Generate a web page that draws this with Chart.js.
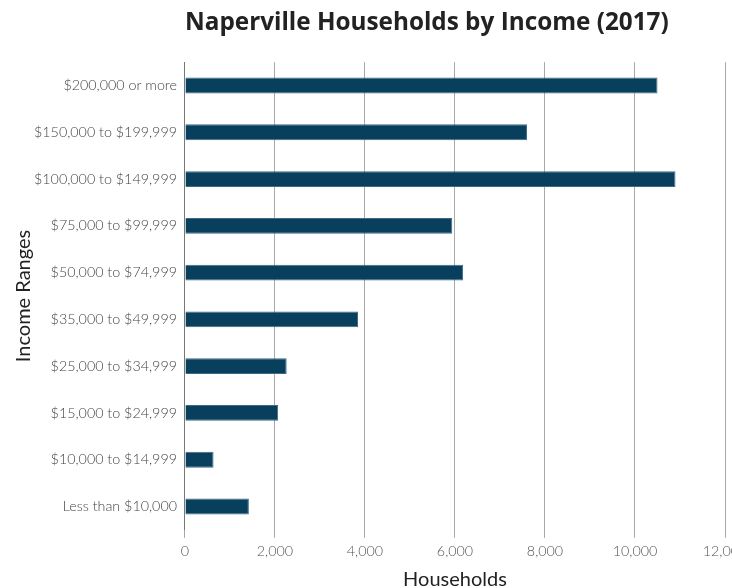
<!DOCTYPE html>
<html>
<head>
<meta charset="utf-8">
<script src="https://cdn.jsdelivr.net/npm/chart.js@4"></script>
<style>
  html, body { margin: 0; padding: 0; background: #fff; }
  #wrap { width: 732px; height: 588px; }
</style>
</head>
<body>
<div id="wrap"><canvas id="chart"></canvas></div>
<script>
// Income brackets (top to bottom) and household counts for Naperville, 2017
const incomeRanges = [
  '$200,000 or more',
  '$150,000 to $199,999',
  '$100,000 to $149,999',
  '$75,000 to $99,999',
  '$50,000 to $74,999',
  '$35,000 to $49,999',
  '$25,000 to $34,999',
  '$15,000 to $24,999',
  '$10,000 to $14,999',
  'Less than $10,000'
];
const households = [10500, 7600, 10900, 5940, 6180, 3845, 2260, 2070, 635, 1420];
const xTicks = [0, 2000, 4000, 6000, 8000, 10000, 12000];

const labelFont = { family: 'Lato, "Noto Sans", sans-serif', size: 14.3, weight: '300' };
const axisTitleFont = { family: 'Lato, "Noto Sans", sans-serif', size: 20, weight: 'normal' };

new Chart(document.getElementById('chart'), {
  type: 'bar',
  data: {
    labels: incomeRanges,
    datasets: [{
      label: 'Households',
      data: households,
      backgroundColor: '#073f5d',
      borderColor: '#3f6b86',
      borderWidth: 1,
      categoryPercentage: 1,
      barPercentage: 0.34
    }]
  },
  options: {
    indexAxis: 'y',
    responsive: true,
    maintainAspectRatio: false,
    animation: false,
    layout: { padding: { left: 2, right: 7, top: 0, bottom: -4 } },
    plugins: {
      legend: { display: false },
      tooltip: { enabled: false },
      title: {
        display: true,
        text: 'Naperville Households by Income (2017)',
        color: '#222',
        fullSize: false,
        align: 'start',
        font: { family: '"Open Sans", sans-serif', size: 24.3, weight: 'bold' },
        padding: { top: 8, bottom: 25 }
      }
    },
    scales: {
      x: {
        min: 0,
        max: 12000,
        afterBuildTicks: (scale) => { scale.ticks = xTicks.map(v => ({ value: v })); },
        afterFit: (scale) => { scale.paddingRight = 0; },
        grid: { color: '#a8a8a8', lineWidth: 1, tickLength: 8, drawTicks: true },
        border: { display: false },
        ticks: {
          color: '#555',
          font: labelFont,
          padding: 5,
          maxRotation: 0,
          callback: (v) => Number(v).toLocaleString('en-US')
        },
        title: {
          display: true,
          text: 'Households',
          color: '#222',
          font: axisTitleFont,
          padding: { top: 3, bottom: 0 }
        }
      },
      y: {
        grid: { display: false, drawTicks: false },
        border: { display: true, color: '#777', width: 1 },
        ticks: { color: '#444', font: labelFont, padding: 8 },
        title: {
          display: true,
          text: 'Income Ranges',
          color: '#222',
          font: axisTitleFont,
          padding: { top: 10, bottom: -10 }
        }
      }
    }
  }
});
</script>
</body>
</html>
